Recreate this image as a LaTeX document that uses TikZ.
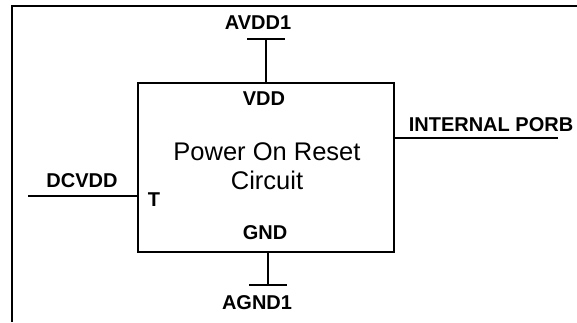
\documentclass[tikz,border=0pt]{standalone}
\usepackage{fontspec}
\setmainfont{Liberation Sans}
\usetikzlibrary{positioning}

\begin{document}
\begin{tikzpicture}[
    x=1pt, y=-1pt,
    wire/.style={draw, line width=1.6pt},
    pin/.style={font=\fontsize{20}{24}\selectfont\bfseries, inner sep=0pt, anchor=base},
    block/.style={draw, line width=1.6pt, minimum width=256pt, minimum height=169pt, inner sep=0pt}
]
\useasboundingbox (0,0) rectangle (577,322);

% Frame
\draw[wire] (12,322) -- (12,6) -- (577,6);

% Block
\node[block] (por) at (266,167.5) {};
\node[align=center, font=\fontsize{25.5}{29}\selectfont, inner sep=0pt, anchor=base]
    (title) at (267,189) {Power On Reset\\Circuit};

% Pins inside the block
\node[pin] (vdd) at (264,105) {VDD};
\node[pin] (gnd) at (265,239) {GND};
\node[pin] (t) at (154,206) {T};

% Supply rails
\coordinate (avddtop) at (266,39);
\coordinate (agndbot) at (268,285);
\draw[wire] (por.north -| avddtop) -- (avddtop);
\draw[wire] ([xshift=-19pt]avddtop) -- ([xshift=19pt]avddtop);
\draw[wire] (por.south -| agndbot) -- (agndbot);
\draw[wire] ([xshift=-19pt]agndbot) -- ([xshift=19pt]agndbot);
\node[pin] (avdd) at (258,29) {AVDD1};
\node[pin] (agnd) at (257,309) {AGND1};

% Input and output
\coordinate (dcin) at (28,196);
\coordinate (porout) at (558,138);
\draw[wire] (dcin) -- (dcin -| por.west);
\draw[wire] (porout -| por.east) -- (porout);
\node[pin] (dcvdd) at (82,187) {DCVDD};
\node[pin] (porb) at (491,131) {INTERNAL PORB};

\end{tikzpicture}
\end{document}
